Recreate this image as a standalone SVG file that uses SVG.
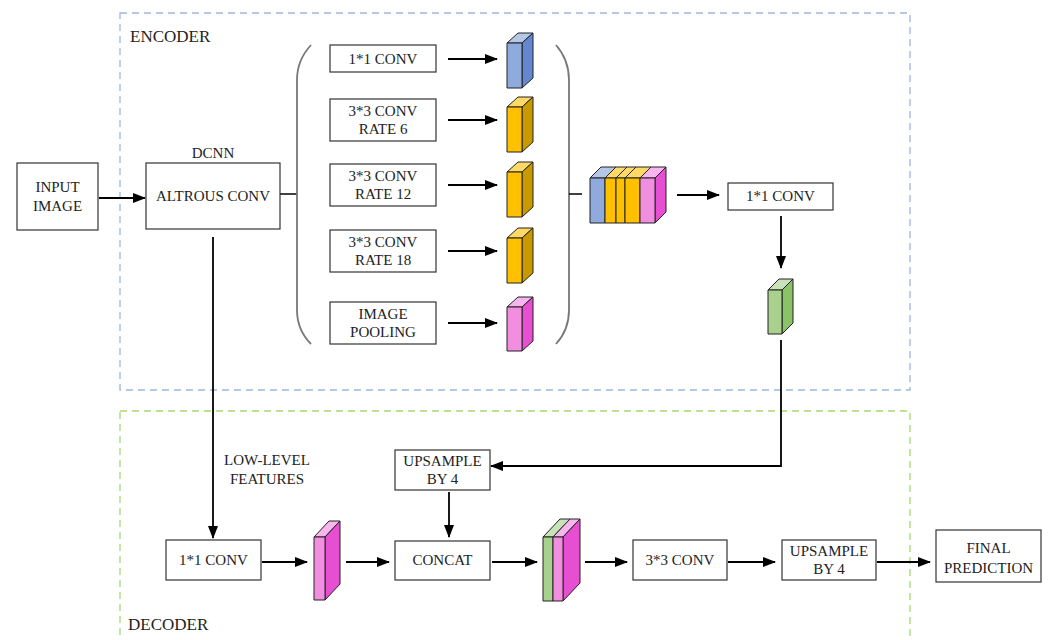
<svg xmlns="http://www.w3.org/2000/svg" width="1051" height="640" viewBox="0 0 1051 640">
<defs>
<marker id="ah" markerWidth="13" markerHeight="10" refX="12" refY="5" orient="auto" markerUnits="userSpaceOnUse">
<path d="M0,0 L13,5 L0,10 Z" fill="#000"/>
</marker>
<style>
.box{fill:#fff;stroke:#333;stroke-width:1.2}
.t{font-family:"Liberation Serif","Times New Roman",serif;font-size:15px;fill:#222;text-anchor:middle}
.lbl{font-family:"Liberation Serif","Times New Roman",serif;font-size:17px;fill:#222}
.ar{stroke:#000;stroke-width:1.8;fill:none;marker-end:url(#ah)}
.ln{stroke:#000;stroke-width:1.5;fill:none}
.par{stroke:#777;stroke-width:1.8;fill:none}
.cb{stroke:#222;stroke-width:1;stroke-linejoin:round}
.bF{fill:#8faadc}.bS{fill:#6587cf}.bT{fill:#b4c7e7}
.yF{fill:#ffc000}.yS{fill:#c99a00}.yT{fill:#ffd966}
.pF{fill:#f28ee0}.pS{fill:#e64fd2}.pT{fill:#f7b6ee}
.gF{fill:#a9d18e}.gS{fill:#8cc267}.gT{fill:#c9e3b8}
</style>
</defs>
<rect width="1051" height="640" fill="#fff"/>

<g id="regions">
<rect x="120" y="13" width="790" height="377" fill="none" stroke="#9fb6dc" stroke-width="1.3" stroke-dasharray="7,5"/>
<rect x="120" y="411" width="790" height="240" fill="none" stroke="#a9d870" stroke-width="1.3" stroke-dasharray="7,5"/>
<text class="lbl" x="130" y="42">ENCODER</text>
<text class="lbl" x="128" y="630">DECODER</text>
</g>

<g id="connectors">
<line class="ar" x1="99" y1="198" x2="145" y2="198"/>
<line class="ln" x1="280" y1="194" x2="297" y2="194"/>
<path class="par" d="M311,45 Q297,60 297,80 L297,310 Q297,330 311,344"/>
<path class="par" d="M556,45 Q569,60 569,80 L569,310 Q569,330 556,344"/>
<line class="ln" x1="569" y1="194" x2="582" y2="194" stroke="#666"/>
<line class="ar" x1="448" y1="59" x2="497" y2="59"/>
<line class="ar" x1="448" y1="120" x2="497" y2="120"/>
<line class="ar" x1="448" y1="185" x2="497" y2="185"/>
<line class="ar" x1="448" y1="251" x2="497" y2="251"/>
<line class="ar" x1="448" y1="323" x2="497" y2="323"/>
<line class="ar" x1="677" y1="195" x2="719" y2="195"/>
<line class="ar" x1="781" y1="216" x2="781" y2="268"/>
<path class="ar" d="M781,340 L781,466 L491,466"/>
<line class="ar" x1="213" y1="237" x2="213" y2="538"/>
<line class="ar" x1="262" y1="562" x2="307" y2="562"/>
<line class="ar" x1="346" y1="562" x2="389" y2="562"/>
<line class="ar" x1="449" y1="492" x2="449" y2="537"/>
<line class="ar" x1="492" y1="562" x2="537" y2="562"/>
<line class="ar" x1="585" y1="562" x2="627" y2="562"/>
<line class="ar" x1="728" y1="562" x2="775" y2="562"/>
<line class="ar" x1="877" y1="562" x2="930" y2="562"/>
</g>

<g id="input-image">
<rect class="box" x="17" y="163" width="81" height="67"/>
<text class="t" x="57.5" y="192">INPUT</text>
<text class="t" x="57.5" y="211">IMAGE</text>
</g>

<g id="dcnn">
<text class="t" x="213" y="158">DCNN</text>
<rect class="box" x="146" y="163" width="134" height="66"/>
<text class="t" x="213" y="201">ALTROUS CONV</text>
</g>

<g id="conv1x1-a">
<rect class="box" x="330" y="45" width="106" height="27"/>
<text class="t" x="383" y="64">1*1 CONV</text>
</g>
<g id="conv-rate6">
<rect class="box" x="330" y="99" width="106" height="42"/>
<text class="t" x="383" y="116">3*3 CONV</text>
<text class="t" x="383" y="134">RATE 6</text>
</g>
<g id="conv-rate12">
<rect class="box" x="330" y="164" width="106" height="42"/>
<text class="t" x="383" y="181">3*3 CONV</text>
<text class="t" x="383" y="199">RATE 12</text>
</g>
<g id="conv-rate18">
<rect class="box" x="330" y="230" width="106" height="42"/>
<text class="t" x="383" y="247">3*3 CONV</text>
<text class="t" x="383" y="265">RATE 18</text>
</g>
<g id="image-pooling">
<rect class="box" x="330" y="302" width="106" height="42"/>
<text class="t" x="383" y="319">IMAGE</text>
<text class="t" x="383" y="337">POOLING</text>
</g>

<g id="cube-blue">
<polygon class="cb bT" points="507,43 518,33 533,33 522,43"/>
<polygon class="cb bS" points="522,43 533,33 533,78 522,88"/>
<rect class="cb bF" x="507" y="43" width="15" height="45"/>
</g>
<g id="cube-y1">
<polygon class="cb yT" points="507,107 518,97 533,97 522,107"/>
<polygon class="cb yS" points="522,107 533,97 533,142 522,152"/>
<rect class="cb yF" x="507" y="107" width="15" height="45"/>
</g>
<g id="cube-y2">
<polygon class="cb yT" points="507,172 518,162 533,162 522,172"/>
<polygon class="cb yS" points="522,172 533,162 533,207 522,217"/>
<rect class="cb yF" x="507" y="172" width="15" height="45"/>
</g>
<g id="cube-y3">
<polygon class="cb yT" points="507,238 518,228 533,228 522,238"/>
<polygon class="cb yS" points="522,238 533,228 533,273 522,283"/>
<rect class="cb yF" x="507" y="238" width="15" height="45"/>
</g>
<g id="cube-pink">
<polygon class="cb pT" points="507,307 518,297 533,297 522,307"/>
<polygon class="cb pS" points="522,307 533,297 533,341 522,351"/>
<rect class="cb pF" x="507" y="307" width="15" height="44"/>
</g>

<g id="concat-encoder">
<polygon class="cb bT" points="590,178 601,167 616,167 605,178"/>
<polygon class="cb yT" points="605,178 616,167 627,167 616,178"/>
<polygon class="cb yT" points="616,178 627,167 636,167 625,178"/>
<polygon class="cb yT" points="625,178 636,167 651,167 640,178"/>
<polygon class="cb pT" points="640,178 651,167 666,167 655,178"/>
<polygon class="cb pS" points="655,178 666,167 666,212 655,223"/>
<rect class="cb bF" x="590" y="178" width="15" height="45"/>
<rect class="cb yF" x="605" y="178" width="11" height="45"/>
<rect class="cb yF" x="616" y="178" width="9" height="45"/>
<rect class="cb yF" x="625" y="178" width="15" height="45"/>
<rect class="cb pF" x="640" y="178" width="15" height="45"/>
</g>

<g id="conv1x1-b">
<rect class="box" x="728" y="183" width="105" height="27"/>
<text class="t" x="780.5" y="201">1*1 CONV</text>
</g>

<g id="cube-green">
<polygon class="cb gT" points="768,290 779,279 793,279 782,290"/>
<polygon class="cb gS" points="782,290 793,279 793,323 782,334"/>
<rect class="cb gF" x="768" y="290" width="14" height="44"/>
</g>

<g id="low-level-label">
<text class="t" x="267" y="465">LOW-LEVEL</text>
<text class="t" x="267" y="484">FEATURES</text>
</g>

<g id="upsample-a">
<rect class="box" x="395" y="450" width="95" height="40"/>
<text class="t" x="442.5" y="466">UPSAMPLE</text>
<text class="t" x="442.5" y="484">BY 4</text>
</g>

<g id="conv1x1-dec">
<rect class="box" x="166" y="540" width="95" height="40"/>
<text class="t" x="213.5" y="565">1*1 CONV</text>
</g>

<g id="cube-dec-pink">
<polygon class="cb pT" points="314,537 329,521 340,521 325,537"/>
<polygon class="cb pS" points="325,537 340,521 340,584 325,600"/>
<rect class="cb pF" x="314" y="537" width="11" height="63"/>
</g>

<g id="concat">
<rect class="box" x="395" y="541" width="95" height="39"/>
<text class="t" x="442.5" y="565">CONCAT</text>
</g>

<g id="cube-dec-concat">
<polygon class="cb gT" points="543,537 560,519 570,519 553,537"/>
<polygon class="cb pT" points="553,537 570,519 580,519 563,537"/>
<polygon class="cb pS" points="563,537 580,519 580,583 563,601"/>
<rect class="cb gF" x="543" y="537" width="10" height="64"/>
<rect class="cb pF" x="553" y="537" width="10" height="64"/>
</g>

<g id="conv3x3">
<rect class="box" x="633" y="540" width="94" height="40"/>
<text class="t" x="680" y="565">3*3 CONV</text>
</g>

<g id="upsample-b">
<rect class="box" x="782" y="540" width="94" height="40"/>
<text class="t" x="829" y="556">UPSAMPLE</text>
<text class="t" x="829" y="574">BY 4</text>
</g>

<g id="final-prediction">
<rect class="box" x="936" y="530" width="105" height="52"/>
<text class="t" x="988.5" y="553">FINAL</text>
<text class="t" x="988.5" y="573">PREDICTION</text>
</g>
</svg>
